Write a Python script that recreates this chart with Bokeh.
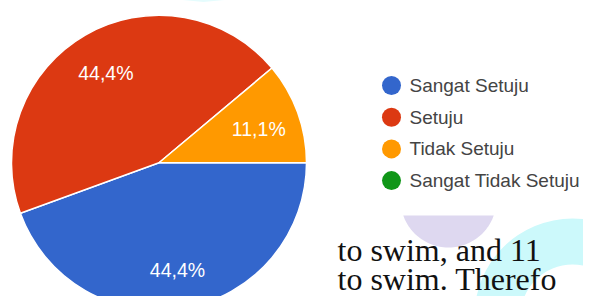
import numpy as np
from bokeh.plotting import figure
from bokeh.models import Range1d, ColumnDataSource
from bokeh.core.properties import value
from bokeh.embed import file_html
from bokeh.resources import INLINE

# ---- data ----
categories = ["Sangat Setuju", "Setuju", "Tidak Setuju", "Sangat Tidak Setuju"]
counts = [4, 4, 1, 0]
colors = ["#3366cc", "#dc3912", "#ff9900", "#109618"]
body_lines = ["to swim, and 11", "to swim. Therefo"]

# ---- canvas: data units == pixels of the visible area ----
W, H = 583, 296
p = figure(width=W, height=H, x_range=Range1d(0, W), y_range=Range1d(0, H),
           output_backend="svg", toolbar_location=None, min_border=0,
           x_axis_location=None, y_axis_location=None)
p.grid.visible = False
p.outline_line_color = None
p.background_fill_color = "white"
p.border_fill_color = "white"

def Y(v):  # row from top -> data y
    return H - v

# ---- decorative page background shapes ----
lc_x, lc_y, lr = 448, Y(199), 48
lim = np.arcsin(16 / 48)
th = np.linspace(np.pi + lim, 2 * np.pi - lim, 60)
p.patch(lc_x + lr * np.cos(th), lc_y + lr * np.sin(th), fill_color="#ded8f0", line_color=None)
p.annulus(x=[572], y=[Y(316)], inner_radius=52, outer_radius=98,
          fill_color="#ccf9fb", line_color=None)
p.annulus(x=[203], y=[Y(-142.5)], inner_radius=141, outer_radius=143.5,
          fill_color="#ccf9fb", line_color=None)

# ---- pie ----
cx, cy, R = 158.5, Y(162.3), 147.5
total = float(sum(counts))
fr = np.array(counts) / total
cum_end = np.cumsum(fr)
cum_start = cum_end - fr
mask = fr > 0
src = ColumnDataSource(dict(
    start=(-cum_end * 2 * np.pi)[mask],
    end=(-cum_start * 2 * np.pi)[mask],
    color=np.array(colors)[mask],
))
p.wedge(x=cx, y=cy, radius=R, start_angle="start", end_angle="end",
        fill_color="color", line_color="white", line_width=1.5, source=src)

mid = -(cum_start + cum_end) / 2 * 2 * np.pi
lab = [f"{v * 100:.1f}%".replace(".", ",") for v in fr]
lsrc = ColumnDataSource(dict(
    x=(cx + 0.72 * R * np.cos(mid))[mask],
    y=(cy + 0.72 * R * np.sin(mid))[mask],
    t=np.array(lab)[mask],
))
p.text(x="x", y="y", text="t", source=lsrc, text_color="white",
       text_font=value("Liberation Sans"), text_font_size="19.5px",
       text_align="center", text_baseline="middle", y_offset=2.5)

# ---- legend ----
n = len(categories)
ly = [Y(85 + i * 31.7) for i in range(n)]
p.scatter(x=[391] * n, y=ly, size=19, fill_color=colors, line_color=None)
p.text(x=[409] * n, y=ly, text=categories, text_color="#444444",
       text_font=value("Liberation Sans"), text_font_size="19px",
       text_align="left", text_baseline="middle")

# ---- document body text (rows are the centres of the lines) ----
p.text(x=[337, 337], y=[Y(249), Y(278)], text=body_lines, text_color="#111111",
       text_font=value("Liberation Serif"), text_font_size="32px",
       text_align="left", text_baseline="middle")

open("out.html", "w").write(file_html(p, INLINE))
